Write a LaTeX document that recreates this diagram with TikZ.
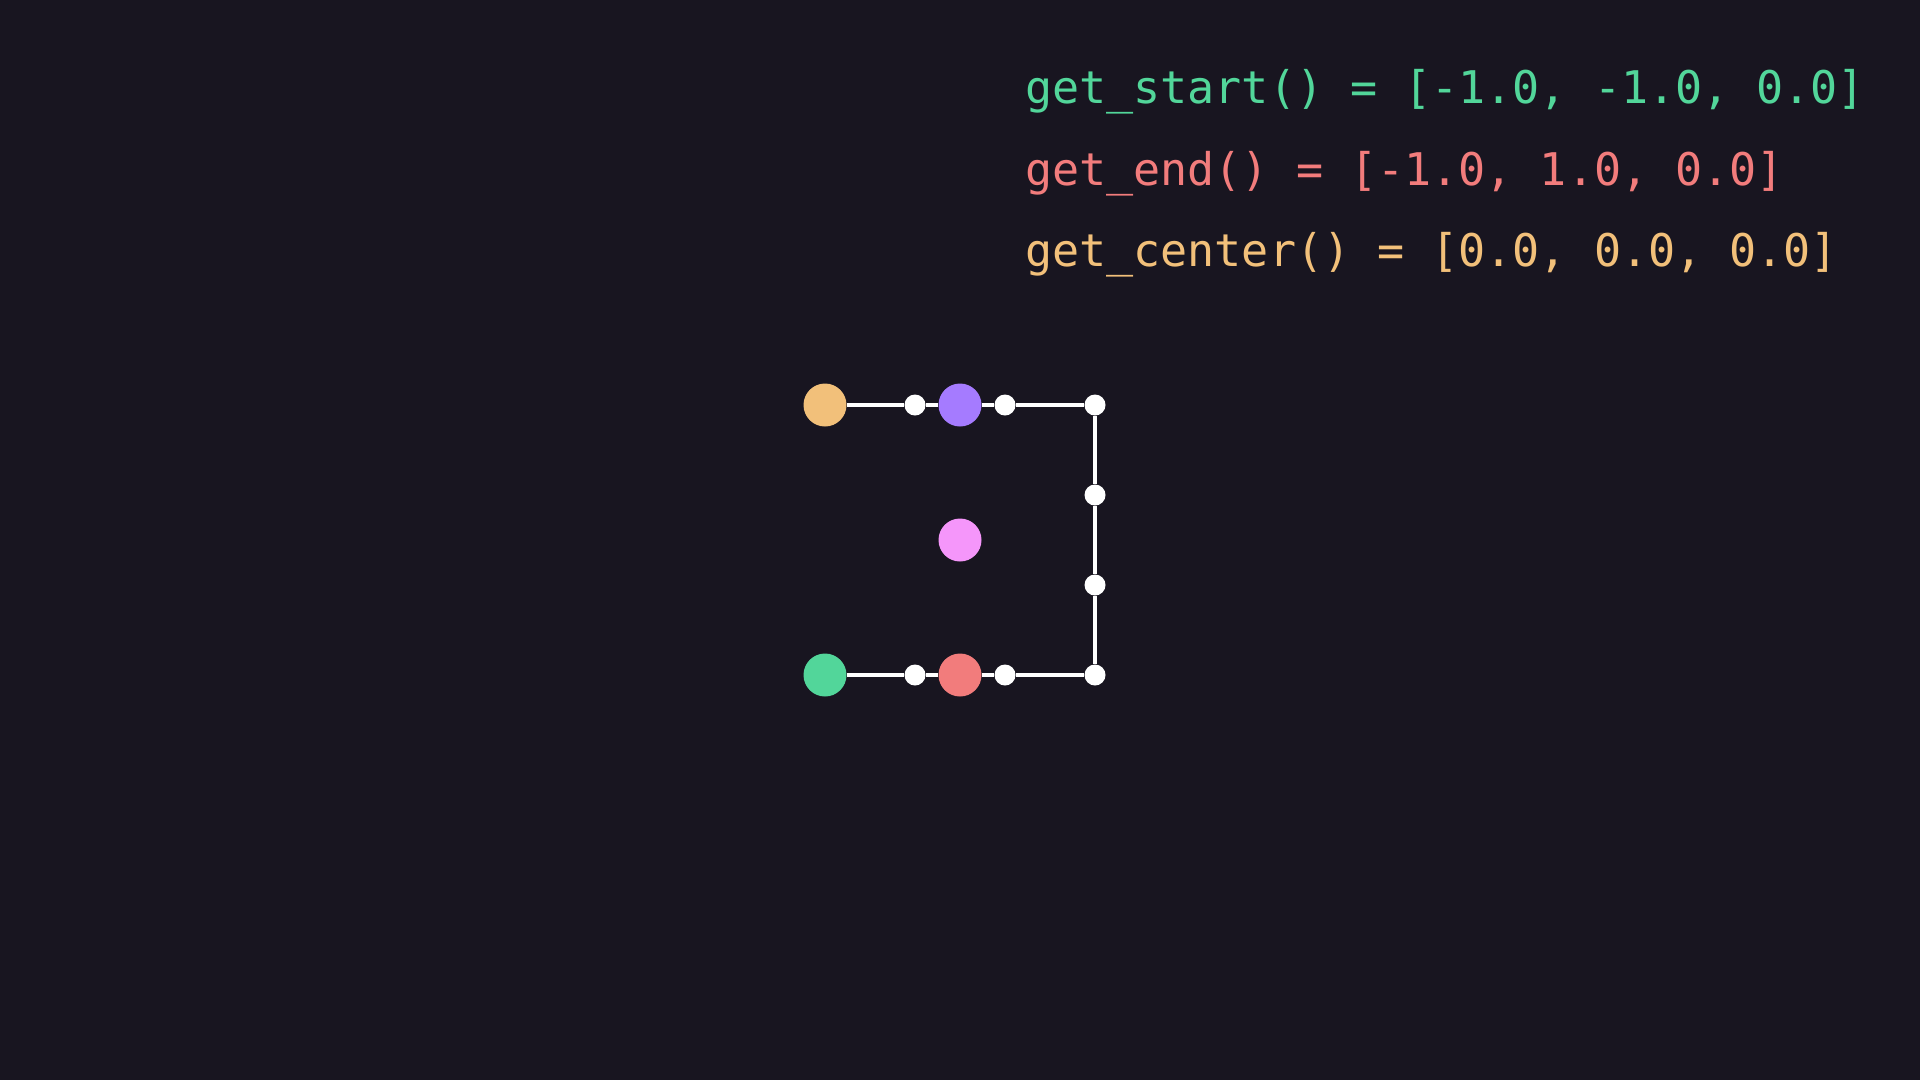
\documentclass[tikz,border=0pt]{standalone}
\usepackage{fontspec}
\newfontfamily\codefont{DejaVu Sans Mono}
\definecolor{bg}{RGB}{24,21,32}
\definecolor{cgreen}{RGB}{82,214,154}
\definecolor{cred}{RGB}{242,124,124}
\definecolor{corange}{RGB}{242,192,122}
\definecolor{cpurple}{RGB}{165,123,255}
\definecolor{cpink}{RGB}{245,150,250}
\tikzset{
  bigdot/.style={circle,inner sep=0pt,minimum size=43pt,draw=none,fill=#1},
  smalldot/.style={circle,inner sep=0pt,minimum size=21pt,draw=none,fill=white},
  wire/.style={draw=white,line width=4pt},
  code/.style={anchor=base west,inner sep=0pt,text=#1,font=\codefont\fontsize{45pt}{54pt}\selectfont}
}
\begin{document}
\begin{tikzpicture}[x=1pt,y=-1pt]
\fill[bg] (0,0) rectangle (1920,1080);
\useasboundingbox (0,0) rectangle (1920,1080);
% code lines
\node[code=cgreen] (t1) at (1025,103) {get\_start() = [-1.0, -1.0, 0.0]};
\node[code=cred] (t2) at (1025,185) {get\_end() = [-1.0, 1.0, 0.0]};
\node[code=corange] (t3) at (1025,266) {get\_center() = [0.0, 0.0, 0.0]};
% anchor points
\node[bigdot=corange] (o) at (825,405) {};
\node[smalldot] (w1) at (915,405) {};
\node[bigdot=cpurple] (p) at (960,405) {};
\node[smalldot] (w2) at (1005,405) {};
\node[smalldot] (tr) at (1095,405) {};
\node[smalldot] (v1) at (1095,495) {};
\node[smalldot] (v2) at (1095,585) {};
\node[smalldot] (br) at (1095,675) {};
\node[smalldot] (w4) at (1005,675) {};
\node[bigdot=cred] (r) at (960,675) {};
\node[smalldot] (w3) at (915,675) {};
\node[bigdot=cgreen] (g) at (825,675) {};
\node[bigdot=cpink] (c) at (960,540) {};
% wires
\draw[wire] (o) -- (w1);
\draw[wire] (w1) -- (p);
\draw[wire] (p) -- (w2);
\draw[wire] (w2) -- (tr);
\draw[wire] (tr) -- (v1);
\draw[wire] (v1) -- (v2);
\draw[wire] (v2) -- (br);
\draw[wire] (g) -- (w3);
\draw[wire] (w3) -- (r);
\draw[wire] (r) -- (w4);
\draw[wire] (w4) -- (br);
\end{tikzpicture}
\end{document}
